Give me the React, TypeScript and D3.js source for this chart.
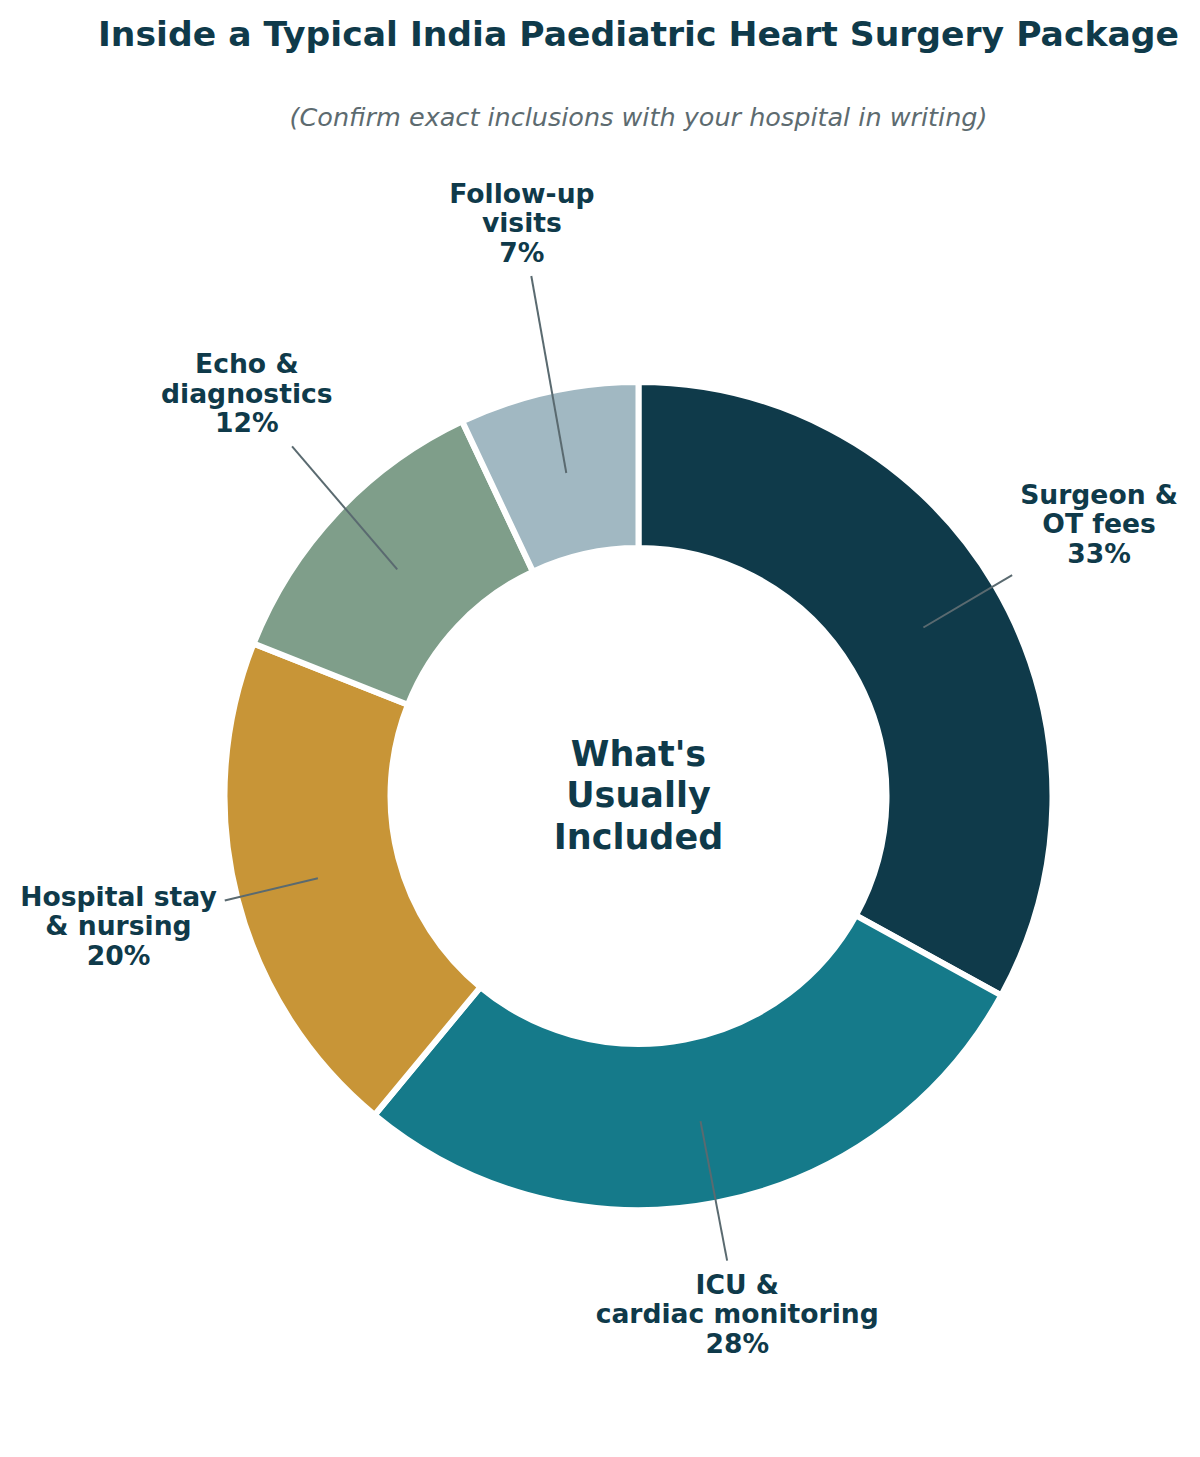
import React, { useEffect, useRef } from "react";
import * as d3 from "d3";

const TITLE = "Inside a Typical India Paediatric Heart Surgery Package";
const SUBTITLE = "(Confirm exact inclusions with your hospital in writing)";
const CENTER_LINES = ["What's", "Usually", "Included"];

const CATEGORIES = [
  "Surgeon &\nOT fees",
  "ICU &\ncardiac monitoring",
  "Hospital stay\n& nursing",
  "Echo &\ndiagnostics",
  "Follow-up\nvisits",
];
const SHARES = [33, 28, 20, 12, 7];
const COLORS = ["#0f3a4a", "#157a8a", "#c89537", "#7f9e8a", "#a1b8c2"];

// layout constants (label distance in units of outer radius, small angle nudges in degrees)
const LABEL_DIST = [1.302, 1.282, 1.304, 1.367, 1.423];
const LABEL_NUDGE = [0, 0, 0.4, 2.6, 1.1];

const W = 1200;
const H = 1457;
const CX = 638.5;
const CY = 796;
const R_OUT = 411; // visible outer radius
const R_IN = 251; // visible inner radius
const EDGE = 6;
const TEXT = "#0f3a4a";
const FONT = "DejaVu Sans, Verdana, sans-serif";

export default function App() {
  const ref = useRef<SVGSVGElement | null>(null);

  useEffect(() => {
    const svg = d3.select(ref.current);
    svg.selectAll("*").remove();

    svg.append("rect").attr("width", W).attr("height", H).attr("fill", "#ffffff");

    svg
      .append("text")
      .attr("x", CX)
      .attr("y", 46)
      .attr("text-anchor", "middle")
      .attr("font-family", FONT)
      .attr("font-weight", "bold")
      .attr("font-size", 34.6)
      .attr("fill", TEXT)
      .text(TITLE);

    svg
      .append("text")
      .attr("x", CX)
      .attr("y", 126)
      .attr("text-anchor", "middle")
      .attr("font-family", FONT)
      .attr("font-style", "italic")
      .attr("font-size", 25.5)
      .attr("fill", "#5d6b70")
      .text(SUBTITLE);

    const data = CATEGORIES.map((c, i) => ({ label: c, value: SHARES[i], color: COLORS[i], i }));
    const pie = d3
      .pie<any>()
      .sort(null)
      .value((d: any) => d.value)
      .startAngle(0)
      .endAngle(2 * Math.PI);
    const arcs = pie(data);

    const arc = d3
      .arc<any>()
      .innerRadius(R_IN - EDGE / 2)
      .outerRadius(R_OUT + EDGE / 2);

    const g = svg.append("g").attr("transform", `translate(${CX},${CY})`);
    g.selectAll("path.wedge")
      .data(arcs)
      .join("path")
      .attr("class", "wedge")
      .attr("d", arc as any)
      .attr("fill", (d: any) => d.data.color)
      .attr("stroke", "#ffffff")
      .attr("stroke-width", EDGE)
      .attr("stroke-linejoin", "miter");

    const FS = 26.6;
    const LS = 29.5;
    const rMid = (R_OUT + R_IN) / 2;

    arcs.forEach((a: any, k: number) => {
      const mid = (a.startAngle + a.endAngle) / 2;
      const la = mid + (LABEL_NUDGE[k] * Math.PI) / 180;
      const lr = LABEL_DIST[k] * R_OUT;
      const lx = CX + lr * Math.sin(la);
      const ly = CY - lr * Math.cos(la);
      const sx = CX + rMid * Math.sin(mid);
      const sy = CY - rMid * Math.cos(mid);

      const lines = [...a.data.label.split("\n"), `${a.data.value}%`];
      const n = lines.length;
      const t = svg
        .append("text")
        .attr("text-anchor", "middle")
        .attr("font-family", FONT)
        .attr("font-weight", "bold")
        .attr("font-size", FS)
        .attr("fill", TEXT);
      lines.forEach((ln: string, i: number) => {
        t.append("tspan")
          .attr("x", lx)
          .attr("y", ly + (i - (n - 1) / 2) * LS + 0.36 * FS)
          .text(ln);
      });

      const node = t.node() as SVGTextElement;
      const bb = node.getBBox();
      const pad = 8;
      const hw = bb.width / 2 + pad;
      const hh = bb.height / 2 + pad;
      const bcx = bb.x + bb.width / 2;
      const bcy = bb.y + bb.height / 2;
      const dx = bcx - sx;
      const dy = bcy - sy;
      const len = Math.hypot(dx, dy);
      const ux = dx / len;
      const uy = dy / len;
      const tx = Math.abs(ux) > 1e-6 ? hw / Math.abs(ux) : Infinity;
      const ty = Math.abs(uy) > 1e-6 ? hh / Math.abs(uy) : Infinity;
      const back = Math.min(tx, ty);
      const ex = bcx - ux * back;
      const ey = bcy - uy * back;

      svg
        .append("line")
        .attr("x1", sx)
        .attr("y1", sy)
        .attr("x2", ex)
        .attr("y2", ey)
        .attr("stroke", "#5a6a70")
        .attr("stroke-width", 2);
    });

    const ct = svg
      .append("text")
      .attr("text-anchor", "middle")
      .attr("font-family", FONT)
      .attr("font-weight", "bold")
      .attr("font-size", 35)
      .attr("fill", TEXT);
    CENTER_LINES.forEach((ln, i) => {
      ct.append("tspan")
        .attr("x", CX)
        .attr("y", 766 + i * 41.3)
        .text(ln);
    });
  }, []);

  return (
    <svg
      ref={ref}
      width={W}
      height={H}
      viewBox={`0 0 ${W} ${H}`}
      style={{ position: "absolute", left: 0, top: 0, display: "block" }}
    />
  );
}
